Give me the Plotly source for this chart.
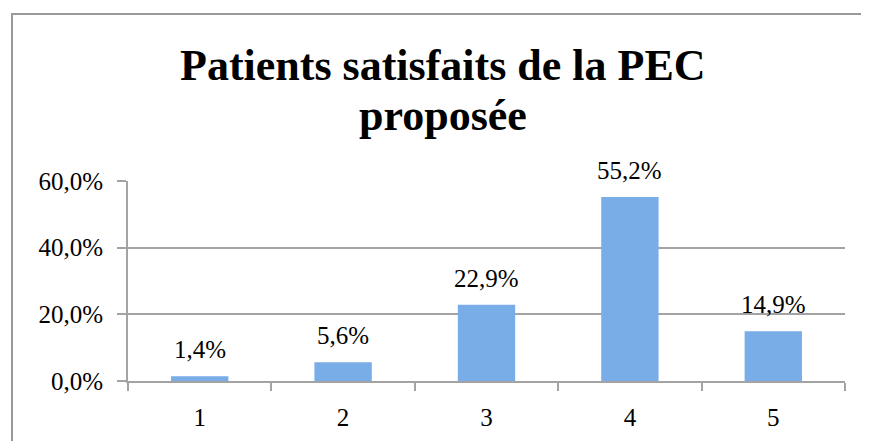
import plotly.graph_objects as go

categories = ['1', '2', '3', '4', '5']
satisfaction_pct = [1.4, 5.6, 22.9, 55.2, 14.9]
y_ticks = [0, 20, 40, 60]
title_lines = ['Patients satisfaits de la PEC', 'proposée']

serif = 'Liberation Serif'
grey = '#a3a3a3'

fig = go.Figure()
fig.add_trace(go.Bar(
    x=categories, y=satisfaction_pct, width=0.4,
    marker=dict(color='#79ade8', line=dict(width=0)),
    hovertemplate='Note %{x}: %{y:.1f}%<extra></extra>'))

# value labels sit a bit higher above the bars than plotly's outside text
# (category axis: annotation x is the category's position index)
for i, val in enumerate(satisfaction_pct):
    fig.add_annotation(x=i, y=val, text=f'{val:.1f}%'.replace('.', ','), showarrow=False,
                       yanchor='bottom', yshift=11, font=dict(family=serif, size=25, color='black'))

# two-line title, tighter line spacing than plotly's <br>
for text, ypos in zip(title_lines, [1.445, 1.195]):
    fig.add_annotation(text=f'<b>{text}</b>', xref='paper', yref='paper', x=0.4393, y=ypos,
                       xanchor='center', yanchor='bottom', showarrow=False,
                       font=dict(family=serif, size=44, color='black'))

fig.update_layout(
    width=869, height=441,
    paper_bgcolor='white', plot_bgcolor='white',
    margin=dict(l=120, r=32, t=173, b=68),
    showlegend=False,
    font=dict(family=serif, size=25, color='black'),
    shapes=[dict(type='rect', xref='paper', yref='paper', x0=-0.1618, x1=1.3, y0=-0.6, y1=1.835,
                 line=dict(color='#999999', width=2), layer='below')])

fig.update_xaxes(type='category', showline=True, linecolor=grey, linewidth=2,
                 ticks='outside', tickson='boundaries', ticklen=8, tickcolor=grey, tickwidth=2,
                 ticklabelstandoff=13, showgrid=False)
fig.update_yaxes(range=[0, 60], tickvals=y_ticks, ticktext=[f'{v},0%' for v in y_ticks],
                 showline=True, linecolor=grey, linewidth=2,
                 ticks='outside', ticklen=9, tickcolor=grey, tickwidth=2, ticklabelstandoff=9,
                 showgrid=True, gridcolor=grey, gridwidth=2, zeroline=False)

fig.write_html('out.html')
